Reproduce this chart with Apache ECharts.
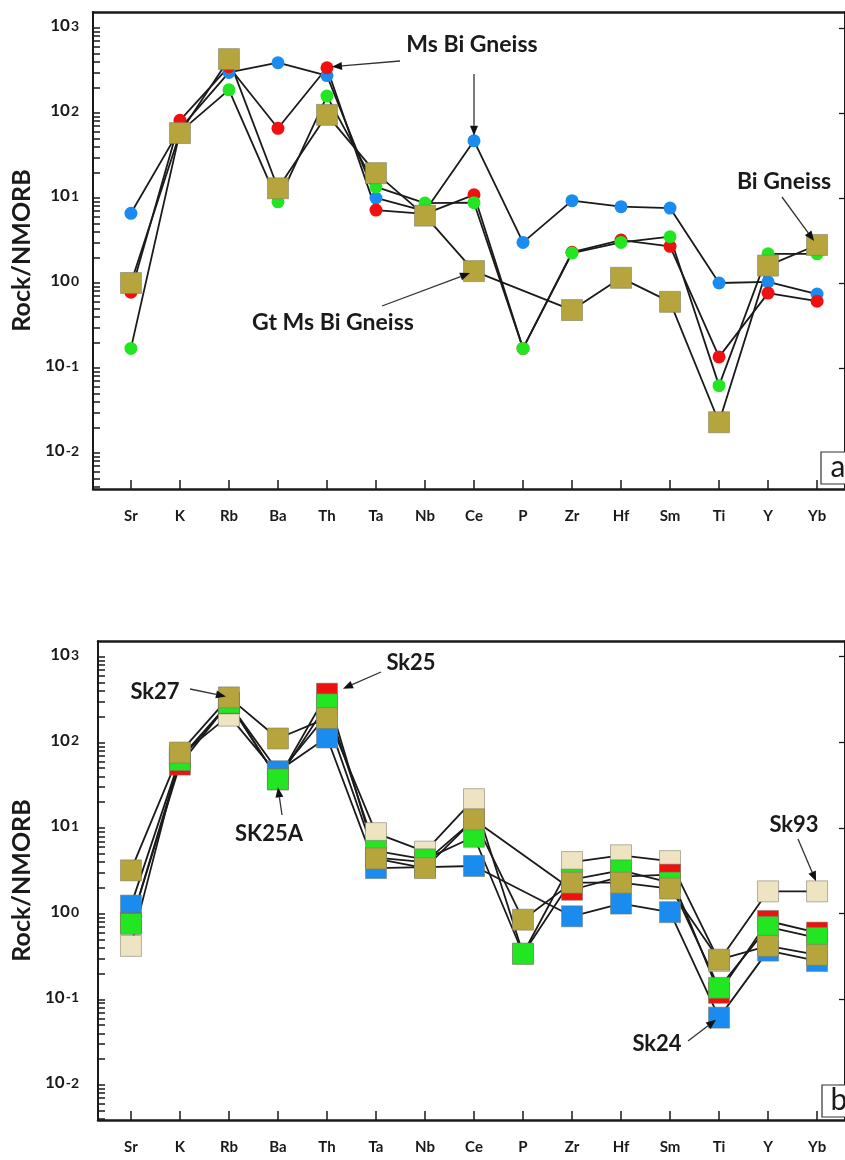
<!DOCTYPE html>
<html><head><meta charset="utf-8">
<script src="https://cdn.jsdelivr.net/npm/echarts@6/dist/echarts.min.js"></script>
<style>html,body{margin:0;padding:0;background:#fff}#c{width:845px;height:1160px}</style>
</head><body><div id="c"></div>
<script>
const categories = ['Sr','K','Rb','Ba','Th','Ta','Nb','Ce','P','Zr','Hf','Sm','Ti','Y','Yb'];
const decadeTicks = [0.01, 0.1, 1, 10, 100, 1000];
const minorTicks = [0.004,0.005,0.006,0.007,0.008,0.009,
  0.02,0.03,0.04,0.05,0.06,0.07,0.08,0.09,
  0.2,0.3,0.4,0.5,0.6,0.7,0.8,0.9,
  2,3,4,5,6,7,8,9, 20,30,40,50,60,70,80,90, 200,300,400,500,600,700,800,900];

// Panel a
const aBlue  = [6.6, 65, 300, 390, 275, 10, 7, 47, 3.0, 9.3, 7.9, 7.6, 1.0, 1.03, 0.74];
const aRed   = [0.78, 82, 350, 66, 340, 7.2, 6.5, 10.9, 0.17, 2.3, 3.2, 2.7, 0.135, 0.76, 0.61];
const aGreen = [0.17, 60, 187, 9, 158, 13.5, 8.7, 8.8, 0.17, 2.25, 3.0, 3.5, 0.062, 2.2, 2.2];
const aOlive = [1.0, 58, 430, 13, 95, 19.6, 6.2, 1.38, null, 0.48, 1.15, 0.6, 0.023, 1.6, 2.8];

// Panel b
const bCream = [0.42, 70, 205, 42, 210, 8.7, 5.3, 21.7, 0.34, 4.0, 4.8, 4.1, 0.28, 1.82, 1.82];
const bBlue  = [1.24, 65, 285, 46, 114, 3.4, 3.5, 3.6, null, 0.93, 1.31, 1.04, 0.061, 0.37, 0.28];
const bRed   = [0.77, 55, 288, 37, 370, 4.5, 4.0, 12.5, null, 1.9, 2.7, 2.85, 0.119, 0.82, 0.6];
const bGreen = [0.76, 62, 290, 37, 278, 5.4, 4.3, 7.9, 0.34, 2.5, 3.2, 2.3, 0.136, 0.70, 0.52];
const bOlive = [3.2, 76, 335, 111, 192, 4.4, 3.4, 12.6, 0.85, 2.3, 2.3, 1.96, 0.29, 0.42, 0.33];

const C = {blue:'#1a8cf0', red:'#f01010', green:'#22e622', olive:'#b5a53c', cream:'#efe4c2'};
const FONT = 'Lato';
const allTicks = decadeTicks.concat(minorTicks).sort((a,b)=>a-b);

function pts(arr){ return arr.map((v,i)=>[i,v]).filter(d=>d[1]!==null); }

const chart = echarts.init(document.getElementById('c'), null, {renderer:'canvas'});

function xAxes(grid, min){
  return [{
    gridIndex: grid, type:'value', min:min, max:14.57, position:'bottom',
    axisLine:{show:true, onZero:false, lineStyle:{color:'#1a1a1a', width:2.5}},
    axisTick:{show:true, inside:true, length:9, customValues:[0,1,2,3,4,5,6,7,8,9,10,11,12,13,14], lineStyle:{color:'#1a1a1a', width:1.5}},
    axisLabel:{show:true, customValues:[0,1,2,3,4,5,6,7,8,9,10,11,12,13,14], formatter:v=>categories[Math.round(v)],
      fontFamily:FONT, fontWeight:'bold', fontSize:15, color:'#1a1a1a', margin:20},
    splitLine:{show:false}
  },{
    gridIndex: grid, type:'value', min:min, max:14.57, position:'top',
    axisLine:{show:true, onZero:false, lineStyle:{color:'#1a1a1a', width:2.5}},
    axisTick:{show:false}, axisLabel:{show:false}, splitLine:{show:false}
  }];
}
function yAxes(grid, min, max, margin, gap){
  return [{
    gridIndex: grid, type:'log', logBase:10, min:min, max:max, position:'left',
    name:'Rock/NMORB', nameLocation:'middle', nameGap:gap, nameRotate:90,
    nameTextStyle:{fontFamily:FONT, fontWeight:'bold', fontSize:25, color:'#1a1a1a'},
    axisLine:{show:true, onZero:false, lineStyle:{color:'#1a1a1a', width:2}},
    axisTick:{show:true, inside:true, length:7, customValues:allTicks, lineStyle:{color:'#1a1a1a', width:1.5}},
    axisLabel:{show:true, customValues:decadeTicks, margin:margin,
      formatter:v=>'{b|10}{s|'+Math.round(Math.log10(v))+'}',
      rich:{
        b:{fontFamily:FONT, fontWeight:'bold', fontSize:17, color:'#1a1a1a', lineHeight:17, padding:[0,0,2,0], verticalAlign:'bottom'},
        s:{fontFamily:FONT, fontWeight:'bold', fontSize:14, color:'#1a1a1a', lineHeight:14, padding:[0,0,14,1], verticalAlign:'top'}
      }},
    splitLine:{show:false}
  },{
    gridIndex: grid, type:'log', logBase:10, min:min, max:max, position:'right',
    axisLine:{show:true, onZero:false, lineStyle:{color:'#1a1a1a', width:2}},
    axisTick:{show:true, inside:true, length:6, customValues:decadeTicks, lineStyle:{color:'#1a1a1a', width:1.3}},
    axisLabel:{show:false}, splitLine:{show:false}
  }];
}

function circleSeries(name, arr, color){
  return {name, type:'line', xAxisIndex:0, yAxisIndex:0, data:pts(arr), symbol:'circle', symbolSize:13,
    lineStyle:{color:'#1a1a1a', width:1.8}, itemStyle:{color:color}, animation:false, emphasis:{disabled:true}};
}
function squareSeries(name, arr, color, xi, yi, size){
  return {name, type:'line', xAxisIndex:xi, yAxisIndex:yi, data:pts(arr), symbol:'rect', symbolSize:size,
    lineStyle:{color:'#1a1a1a', width:1.8}, itemStyle:{color:color, borderColor:'rgba(120,120,100,0.55)', borderWidth:1},
    animation:false, emphasis:{disabled:true}};
}

chart.setOption({
  backgroundColor:'#fff',
  animation:false,
  grid:[
    {left:93, top:12, width:753, height:477},
    {left:98, top:641, width:748, height:479}
  ],
  xAxis:[...xAxes(0, -0.774), ...xAxes(1, -0.672)],
  yAxis:[...yAxes(0, 0.00377, 1541, 14, 52), ...yAxes(1, 0.00389, 1526, 19, 57)],
  series:[
    circleSeries('blue', aBlue, C.blue),
    circleSeries('red', aRed, C.red),
    circleSeries('green', aGreen, C.green),
    squareSeries('olive', aOlive, C.olive, 0, 0, 21),
    squareSeries('Sk93', bCream, C.cream, 2, 2, 21),
    squareSeries('Sk24', bBlue, C.blue, 2, 2, 21),
    squareSeries('Sk25', bRed, C.red, 2, 2, 21),
    squareSeries('SK25A', bGreen, C.green, 2, 2, 21),
    squareSeries('Sk27', bOlive, C.olive, 2, 2, 21)
  ]
});

function P(panel, idx, val){
  return panel === 0 ? chart.convertToPixel({xAxisIndex:0, yAxisIndex:0}, [idx, val])
                     : chart.convertToPixel({xAxisIndex:2, yAxisIndex:2}, [idx, val]);
}
function arrow(x1,y1,x2,y2){
  const dx=x2-x1, dy=y2-y1, L=Math.sqrt(dx*dx+dy*dy), ux=dx/L, uy=dy/L;
  const hl=10, hw=4;
  const bx=x2-ux*hl, by=y2-uy*hl;
  return [
    {type:'line', shape:{x1:x1,y1:y1,x2:bx,y2:by}, style:{stroke:'#333', lineWidth:1.3}, z:100},
    {type:'polygon', shape:{points:[[x2,y2],[bx-uy*hw,by+ux*hw],[bx+uy*hw,by-ux*hw]]}, style:{fill:'#111'}, z:100}
  ];
}
function label(text, x, y, size){
  return {type:'text', x:x, y:y, style:{text:text, fontFamily:FONT, fontWeight:'bold', fontSize:size||23, fill:'#1a1a1a', align:'center', verticalAlign:'middle'}, z:101};
}
function tip(panel, idx, val, ox, oy){ const p=P(panel, idx, val); return [p[0]+ox, p[1]+oy]; }

const els = [];
let t;
t = tip(0, 4, aRed[4], 5, -1); els.push(...arrow(400,61,t[0],t[1]));
t = tip(0, 7, aBlue[7], 0, -5); els.push(...arrow(474,74,t[0],t[1]));
t = tip(0, 14, aOlive[14], -3, -4); els.push(...arrow(782,197,t[0],t[1]));
t = tip(0, 7, aOlive[7], -4, 2); els.push(...arrow(382,306,t[0],t[1]));
els.push(label('Ms Bi Gneiss', 472, 45), label('Bi Gneiss', 784, 182), label('Gt Ms Bi Gneiss', 333, 323));

t = tip(1, 2, bOlive[2], -3, -1); els.push(...arrow(190,689,t[0],t[1]));
t = tip(1, 4, bRed[4], 16, -5); els.push(...arrow(381,672,t[0],t[1]));
t = tip(1, 3, bGreen[3], 0, 8); els.push(...arrow(282,815,t[0],t[1]));
t = tip(1, 14, bCream[14], -1, -10); els.push(...arrow(798,839,t[0],t[1]));
t = tip(1, 12, bBlue[12], -3, 2); els.push(...arrow(688,1041,t[0],t[1]));
els.push(label('Sk27', 155, 692, 22), label('Sk25', 411, 663, 22), label('SK25A', 269, 834, 22),
         label('Sk93', 794, 825, 22), label('Sk24', 657, 1044, 22));

// panel letters
els.push({type:'rect', shape:{x:821, y:452, width:40, height:32}, style:{fill:'#fff', stroke:'#333', lineWidth:1.2}, z:99});
els.push({type:'text', x:838, y:467, style:{text:'a', fontFamily:FONT, fontSize:30, fill:'#1a1a1a', align:'center', verticalAlign:'middle'}, z:100});
els.push({type:'rect', shape:{x:822, y:1085, width:40, height:32}, style:{fill:'#fff', stroke:'#333', lineWidth:1.2}, z:99});
els.push({type:'text', x:839, y:1100, style:{text:'b', fontFamily:FONT, fontSize:30, fill:'#1a1a1a', align:'center', verticalAlign:'middle'}, z:100});

chart.setOption({graphic:{elements:els}});
</script>
</body></html>
